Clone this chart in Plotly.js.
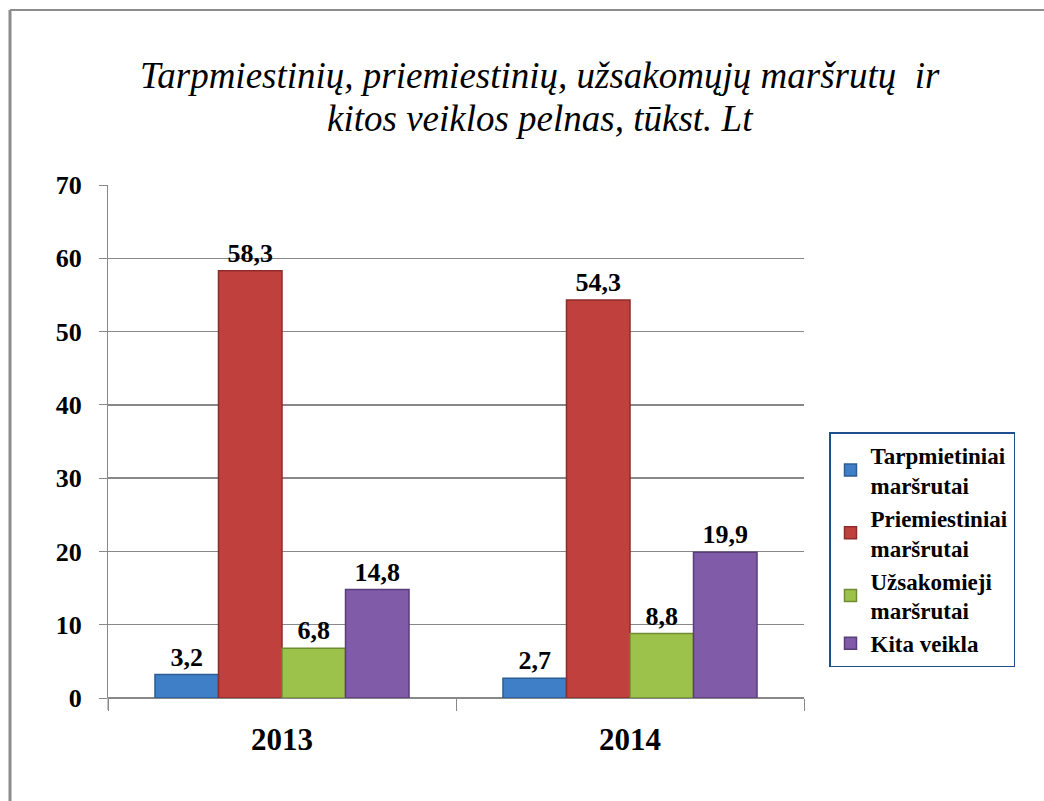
<!DOCTYPE html>
<html><head><meta charset="utf-8">
<script src="https://cdn.plot.ly/plotly-3.0.1.min.js"></script>
<style>html,body{margin:0;padding:0;background:#fff}#chart{width:1044px;height:801px}</style>
</head><body><div id="chart"></div>
<script>
const categories = ['2013', '2014'];
const seriesNames = ['Tarpmietiniai<br>maršrutai', 'Priemiestiniai<br>maršrutai', 'Užsakomieji<br>maršrutai', 'Kita veikla'];
const tarpmiestiniai = [3.2, 2.7];
const priemiestiniai = [58.3, 54.3];
const uzsakomieji = [6.8, 8.8];
const kitaVeikla = [14.8, 19.9];
const yTicks = [0, 10, 20, 30, 40, 50, 60, 70];
const titleLine1 = 'Tarpmiestinių, priemiestinių, užsakomųjų maršrutų  ir';
const titleLine2 = 'kitos veiklos pelnas, tūkst. Lt';

const colors = ['#3f7fc8', '#c0403e', '#9cc24c', '#7f5ba8'];
const lineColors = ['#2c5d94', '#8e2c2a', '#6f8c33', '#5a3e7a'];
const values = [tarpmiestiniai, priemiestiniai, uzsakomieji, kitaVeikla];

const serif = 'Liberation Serif';
const traces = values.map((v, i) => ({
  type: 'bar', x: categories, y: v, name: seriesNames[i],
  marker: {color: colors[i], line: {color: lineColors[i], width: 1.5}},
  texttemplate: '%{y:.1f}', textposition: 'outside', cliponaxis: false,
  textfont: {family: serif, size: 26, color: '#000', weight: 'bold'},
  hoverinfo: 'x+y'
}));

const fx = (px) => (px - 108) / 696;
const fy = (py) => (698 - py) / 513;

const layout = {
  width: 1044, height: 801,
  margin: {l: 108, r: 240, t: 185, b: 103},
  paper_bgcolor: '#fff', plot_bgcolor: '#fff',
  font: {family: serif},
  separators: ',.',
  barmode: 'group', bargap: 0.27, bargroupgap: 0,
  title: {text: titleLine1, x: 0.517, xanchor: 'center', y: 1 - 75/801, yanchor: 'middle', yref: 'container',
    font: {family: serif, size: 37, color: '#000', style: 'italic'}},
  annotations: [{text: titleLine2, xref: 'paper', yref: 'paper', x: fx(540), y: fy(119), xanchor: 'center', yanchor: 'middle',
    showarrow: false, font: {family: serif, size: 37, color: '#000', style: 'italic'}}],
  showlegend: true,
  legend: {x: fx(829), y: fy(432), xanchor: 'left', yanchor: 'top',
    bordercolor: '#1f4e8c', borderwidth: 1.5, bgcolor: '#fff',
    font: {family: serif, size: 23, color: '#000', weight: 'bold'},
    itemwidth: 30, tracegroupgap: 0},
  xaxis: {type: 'category', showgrid: false, zeroline: false,
    ticks: 'outside', tickson: 'boundaries', ticklen: 12, tickcolor: '#888', tickwidth: 1,
    showline: false, ticklabelstandoff: 20,
    tickfont: {family: serif, size: 31, color: '#000', weight: 'bold'}},
  yaxis: {range: [0, 70], tickvals: yTicks, showgrid: true, gridcolor: '#888', gridwidth: 1.5,
    zeroline: true, zerolinecolor: '#888', zerolinewidth: 1.5,
    showline: true, linecolor: '#888', linewidth: 1,
    ticks: 'outside', ticklen: 8, tickcolor: '#888', ticklabelstandoff: 12,
    tickfont: {family: serif, size: 26, color: '#000', weight: 'bold'}},
  shapes: [
    {type: 'line', xref: 'paper', yref: 'paper', x0: fx(10), x1: fx(10), y0: fy(801), y1: fy(10), line: {color: '#8c8c8c', width: 3}},
    {type: 'line', xref: 'paper', yref: 'paper', x0: fx(10), x1: fx(1044), y0: fy(10), y1: fy(10), line: {color: '#8c8c8c', width: 2}},
    {type: 'line', xref: 'paper', yref: 'paper', x0: 0, x1: 0, y0: fy(710), y1: 0, line: {color: '#888', width: 1}}
  ]
};

Plotly.newPlot('chart', traces, layout, {displayModeBar: false, staticPlot: true});
</script></body></html>
